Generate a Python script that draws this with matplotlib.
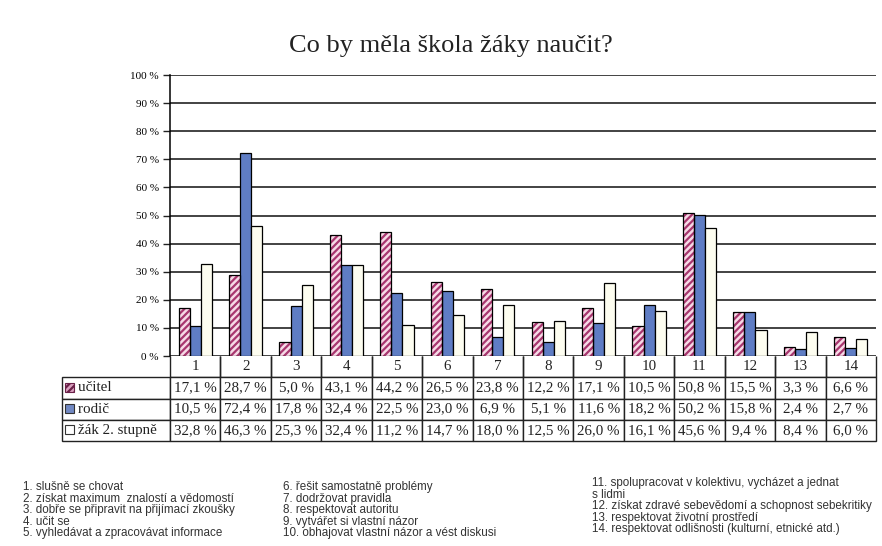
import matplotlib
matplotlib.use("Agg")
import matplotlib.pyplot as plt
from matplotlib.patches import Rectangle
import numpy as np

# data
categories = [str(i) for i in range(1, 15)]
ucitel = [17.1, 28.7, 5.0, 43.1, 44.2, 26.5, 23.8, 12.2, 17.1, 10.5, 50.8, 15.5, 3.3, 6.6]
rodic = [10.5, 72.4, 17.8, 32.4, 22.5, 23.0, 6.9, 5.1, 11.6, 18.2, 50.2, 15.8, 2.4, 2.7]
zak = [32.8, 46.3, 25.3, 32.4, 11.2, 14.7, 18.0, 12.5, 26.0, 16.1, 45.6, 9.4, 8.4, 6.0]
series_names = ["učitel", "rodič", "žák 2. stupně"]
yticks = [0, 10, 20, 30, 40, 50, 60, 70, 80, 90, 100]
notes_1 = ["1. slušně se chovat",
           "2. získat maximum  znalostí a vědomostí",
           "3. dobře se připravit na přijímací zkoušky",
           "4. učit se",
           "5. vyhledávat a zpracovávat informace"]
notes_2 = ["6. řešit samostatně problémy",
           "7. dodržovat pravidla",
           "8. respektovat autoritu",
           "9. vytvářet si vlastní názor",
           "10. obhajovat vlastní názor a vést diskusi"]
notes_3 = ["11. spolupracovat v kolektivu, vycházet a jednat",
           "s lidmi",
           "12. získat zdravé sebevědomí a schopnost sebekritiky",
           "13. respektovat životní prostředí",
           "14. respektovat odlišnosti (kulturní, etnické atd.)"]

W, H = 882, 546
pink = "#f7d9e6"
hatchcol = "#a8366f"
blue = "#5f7dc4"
cream = "#fdfdf0"
serif = "Liberation Serif"
sans = "Liberation Sans"

plt.rcParams["hatch.linewidth"] = 1.6

fig = plt.figure(figsize=(W / 100, H / 100), dpi=100)
fig.patch.set_facecolor("white")

# axes in pixel terms: left 170, right 876, top 75, bottom 356
ax = fig.add_axes([170 / W, (H - 356) / H, 706 / W, 281 / H])
x = np.arange(len(categories))
bw = 0.22

ax.bar(x - bw, ucitel, bw, color=pink, edgecolor=hatchcol, hatch="/////", linewidth=0, zorder=3)
ax.bar(x - bw, ucitel, bw, fill=False, edgecolor="black", linewidth=0.9, zorder=4)
ax.bar(x, rodic, bw, color=blue, edgecolor="black", linewidth=0.9, zorder=3)
ax.bar(x + bw, zak, bw, color=cream, edgecolor="black", linewidth=0.9, zorder=3)

ax.set_xlim(-0.5, len(categories) - 0.5)
ax.set_ylim(0, 100)
ax.set_yticks(yticks)
ax.set_yticklabels([f"{v} %" for v in yticks], fontsize=8, family=serif)
ax.tick_params(axis="y", length=5, width=1, pad=3, color="#222")
ax.set_xticks([])
ax.grid(axis="y", color="#222", linewidth=1.2, zorder=0)
for s in ["top", "right", "bottom"]:
    ax.spines[s].set_visible(False)
ax.spines["left"].set_linewidth(1.1)
ax.set_axisbelow(True)

fig.text(451 / W, 1 - 46 / H, "Co by měla škola žáky naučit?", ha="center", va="center",
         fontsize=19, family=serif, color="#222")

# table under the chart
cell_text = [[""] + categories]
for name, vals in zip(series_names, [ucitel, rodic, zak]):
    cell_text.append(["    " + name] + [f"{v:.1f} %".replace(".", ",") for v in vals])
colw = [108 / 814] + [50.43 / 814] * len(categories)
tab = ax.table(cellText=cell_text, colWidths=colw, cellLoc="center",
               bbox=[-108 / 706, -85 / 281, 814 / 706, 85 / 281])
tab.auto_set_font_size(False)
tab.set_fontsize(10.8)
for (r, c), cell in tab.get_celld().items():
    cell.set_linewidth(1.0)
    cell.set_edgecolor("#222")
    cell.get_text().set_fontfamily(serif)
    cell.get_text().set_color("#222")
    if r == 0 and c == 0:
        cell.visible_edges = ""
    elif r == 0:
        cell.visible_edges = "LRB"
    if c == 0 and r > 0:
        cell._loc = "left"
        cell.PAD = 0.01
        cell.get_text().set_ha("left")

# legend swatches in the label column
sw = [dict(facecolor="#d9a0bf", edgecolor="#6a2048", hatch="/////"),
      dict(facecolor="#7188c2", edgecolor="#333"),
      dict(facecolor="white", edgecolor="#333")]
row_mid = [387, 408, 429]
for st, ym in zip(sw, row_mid):
    fig.add_artist(Rectangle((65 / W, 1 - (ym + 4.5) / H), 9 / W, 9 / H,
                             transform=fig.transFigure, linewidth=0.8, **st))

# notes below
for i, t in enumerate(notes_1):
    fig.text(23 / W, 1 - (487 + i * 11.6) / H, t, fontsize=8.4, family=sans,
             color="#333", va="center")
for i, t in enumerate(notes_2):
    fig.text(283 / W, 1 - (487 + i * 11.6) / H, t, fontsize=8.4, family=sans,
             color="#333", va="center")
for i, t in enumerate(notes_3):
    fig.text(592 / W, 1 - (483 + i * 11.6) / H, t, fontsize=8.4, family=sans,
             color="#333", va="center")

fig.savefig("out.png", dpi=100)
